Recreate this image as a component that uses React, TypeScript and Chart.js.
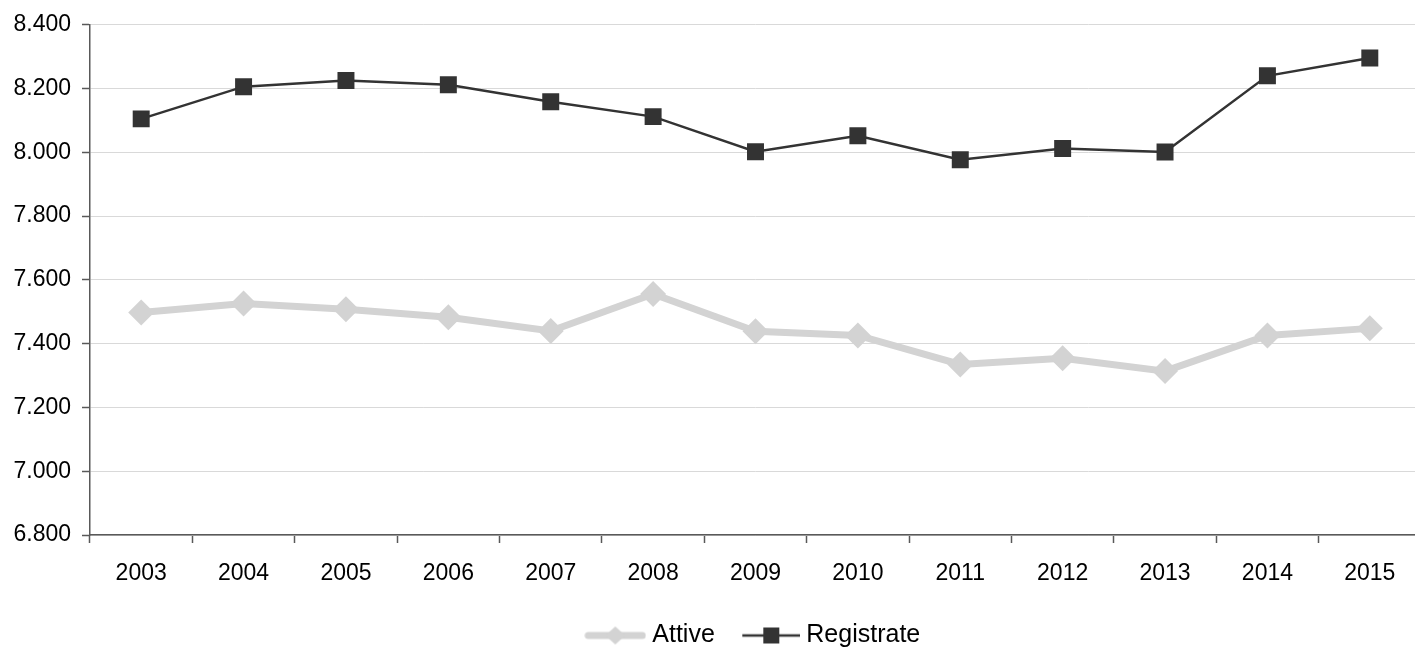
import React, { useEffect, useRef } from "react";
import { Chart, registerables } from "chart.js";

Chart.register(...registerables);

const categories = ["2003", "2004", "2005", "2006", "2007", "2008", "2009", "2010", "2011", "2012", "2013", "2014", "2015"];
const attive = [7498, 7526, 7508, 7483, 7440, 7556, 7439, 7426, 7335, 7354, 7314, 7426, 7448];
const registrate = [8105, 8206, 8225, 8212, 8159, 8112, 8002, 8052, 7977, 8012, 8001, 8240, 8296];
const seriesNames = ["Attive", "Registrate"];
const yMin = 6800;
const yMax = 8400;
const yStep = 200;

const FONT = "'Liberation Sans', Arial, sans-serif";
const CANVAS_W = 1434;

function fmt(v: number): string {
  const s = Math.round(v).toString();
  return s.replace(/\B(?=(\d{3})+(?!\d))/g, ".");
}

function makeLegendImage(kind: "attive" | "registrate"): HTMLCanvasElement {
  const c = document.createElement("canvas");
  c.width = 62;
  c.height = 26;
  const ctx = c.getContext("2d")!;
  const cy = 13;
  if (kind === "attive") {
    ctx.strokeStyle = "#d3d3d3";
    ctx.lineWidth = 7;
    ctx.lineCap = "round";
    ctx.beginPath();
    ctx.moveTo(4, cy);
    ctx.lineTo(58, cy);
    ctx.stroke();
    ctx.fillStyle = "#d3d3d3";
    ctx.beginPath();
    ctx.moveTo(31, cy - 9);
    ctx.lineTo(41, cy);
    ctx.lineTo(31, cy + 9);
    ctx.lineTo(21, cy);
    ctx.closePath();
    ctx.fill();
  } else {
    ctx.strokeStyle = "#333333";
    ctx.lineWidth = 2.5;
    ctx.beginPath();
    ctx.moveTo(4, cy);
    ctx.lineTo(62, cy);
    ctx.stroke();
    ctx.fillStyle = "#333333";
    ctx.fillRect(33 - 8, cy - 8, 16, 16);
  }
  return c;
}

export default function App() {
  const ref = useRef<HTMLCanvasElement | null>(null);

  useEffect(() => {
    document.body.style.margin = "0";
    document.body.style.overflow = "hidden";
    const imgs = [makeLegendImage("attive"), makeLegendImage("registrate")];
    const chart = new Chart(ref.current!, {
      type: "line",
      data: {
        labels: categories,
        datasets: [
          {
            label: seriesNames[0],
            data: attive,
            borderColor: "#d3d3d3",
            backgroundColor: "#d3d3d3",
            borderWidth: 7,
            pointStyle: "rectRot",
            pointRadius: 13,
            pointBorderWidth: 0,
            pointBackgroundColor: "#d3d3d3",
            tension: 0,
          },
          {
            label: seriesNames[1],
            data: registrate,
            borderColor: "#333333",
            backgroundColor: "#333333",
            borderWidth: 2.5,
            pointStyle: "rect",
            pointRadius: 12,
            pointBorderWidth: 0,
            pointBackgroundColor: "#333333",
            tension: 0,
          },
        ],
      },
      options: {
        animation: false,
        responsive: false,
        maintainAspectRatio: false,
        layout: { padding: { top: 24, left: 0, right: 0, bottom: -11 } },
        plugins: {
          tooltip: { enabled: false },
          legend: {
            position: "bottom",
            fullSize: false,
            labels: {
              usePointStyle: true,
              pointStyleWidth: 49,
              padding: 30,
              color: "#000000",
              font: { family: FONT, size: 25 },
              generateLabels: (ch: any) => {
                const base = Chart.defaults.plugins.legend.labels.generateLabels(ch);
                return base.map((l: any, i: number) => ({ ...l, pointStyle: imgs[i] }));
              },
            },
          },
        },
        scales: {
          x: {
            offset: true,
            grid: {
              offset: true,
              drawOnChartArea: false,
              drawTicks: true,
              tickLength: 8,
              tickColor: "#595959",
              tickWidth: 1.5,
            },
            border: { color: "#595959", width: 1.5 },
            ticks: {
              color: "#000000",
              font: { family: FONT, size: 23 },
              padding: 17,
              maxRotation: 0,
              autoSkip: false,
            },
            afterFit: (s: any) => {
              s.height = 58;
            },
          },
          y: {
            min: yMin,
            max: yMax,
            grid: {
              color: "#d9d9d9",
              lineWidth: 1,
              drawTicks: true,
              tickLength: 8,
              tickColor: "#595959",
              tickWidth: 1.5,
            },
            border: { color: "#595959", width: 1.5 },
            ticks: {
              stepSize: yStep,
              color: "#000000",
              font: { family: FONT, size: 23 },
              padding: 11,
              callback: (v: any) => fmt(Number(v)),
            },
            afterFit: (s: any) => {
              s.width = 90;
            },
          },
        },
      },
    });
    return () => chart.destroy();
  }, []);

  return (
    <div style={{ position: "fixed", left: 0, top: 0, width: CANVAS_W, height: 647 }}>
      <canvas ref={ref} width={CANVAS_W} height={647} style={{ display: "block" }} />
    </div>
  );
}
